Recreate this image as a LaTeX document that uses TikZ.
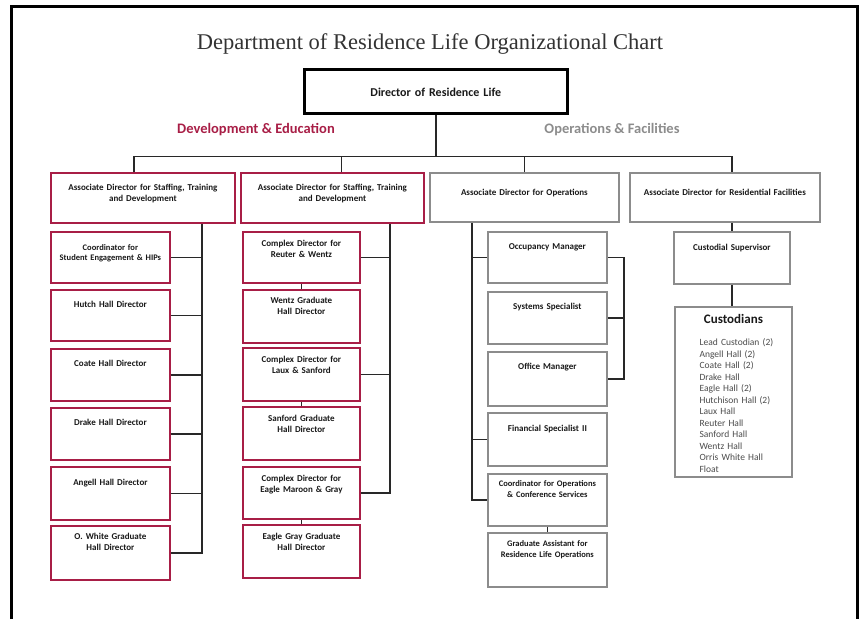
\documentclass[tikz,border=0pt]{standalone}
\usepackage{fontspec}
\setmainfont{Carlito}
\newfontfamily\titlefont{Liberation Serif}
\usepackage{xcolor}
\usepackage{tikz}
\usetikzlibrary{calc}
\usetikzlibrary{positioning}
\definecolor{devred}{RGB}{168,30,70}
\definecolor{opsgray}{RGB}{140,140,140}
\definecolor{wirecol}{RGB}{40,40,40}
\tikzset{
 box/.style={draw,fill=white,anchor=north west,align=center,inner xsep=2pt,inner ysep=0pt,text=black!90,font=\bfseries\fontsize{9}{11}\selectfont},
 devbox/.style={box,draw=devred,line width=1.8pt},
 opsbox/.style={box,draw=opsgray,line width=1.8pt},
 wire/.style={draw=wirecol,line width=1.5pt},
}

\begin{document}
\begin{tikzpicture}[x=1pt,y=-1pt]
 	\useasboundingbox (0,0) rectangle (862,619);
 	\draw[line width=3pt] (11,619) -- (11,6) -- (857,6) -- (857,619);
 	\node[font=\titlefont\fontsize{22.5}{26}\selectfont,text=black!80] (title) at (430,44) {Department of Residence Life Organizational Chart};
 	\node[box,draw=black,line width=2.6pt,text width=259pt,text height=27pt,text depth=17pt,font=\bfseries\fontsize{12}{14}\selectfont] (dir) at (303,68) {Director of Residence Life};
 	\node[font=\bfseries\fontsize{14.5}{17}\selectfont,text=devred] (dev) at (256,130) {Development \& Education};
 	\node[font=\bfseries\fontsize{14.5}{17}\selectfont,text=opsgray] (ops) at (612,130) {Operations \& Facilities};

 	\node[devbox,text width=180pt,text height=18pt,text depth=32pt] (ad1) at (50,172) {Associate Director for Staffing, Training\\and Development};
 	\node[devbox,text width=179pt,text height=18pt,text depth=32pt] (ad2) at (240,172) {Associate Director for Staffing, Training\\and Development};
 	\node[opsbox,text width=185pt,text height=23pt,text depth=26pt] (ad3) at (429,172) {Associate Director for Operations};
 	\node[opsbox,text width=186pt,text height=23pt,text depth=26pt] (ad4) at (629,172) {Associate Director for Residential Facilities};

 	\node[devbox,text width=115pt,text height=19pt,text depth=32pt,font=\bfseries\fontsize{8.5}{10}\selectfont] (coord) at (50,231) {Coordinator for\\Student Engagement \& HIPs};
 	\node[devbox,text width=115pt,text height=18pt,text depth=33pt] (hutch) at (50,289) {Hutch Hall Director};
 	\node[devbox,text width=115pt,text height=18pt,text depth=34pt] (coate) at (50,348) {Coate Hall Director};
 	\node[devbox,text width=115pt,text height=18pt,text depth=34pt] (drake) at (50,407) {Drake Hall Director};
 	\node[devbox,text width=115pt,text height=19pt,text depth=34pt] (angell) at (50,466) {Angell Hall Director};
 	\node[devbox,text width=115pt,text height=14pt,text depth=40pt] (owhite) at (50,525) {O. White Graduate\\Hall Director};

 	\node[devbox,text width=113pt,text height=15pt,text depth=36pt] (reuter) at (242,231) {Complex Director for\\Reuter \& Wentz};
 	\node[devbox,text width=113pt,text height=14pt,text depth=39pt] (wentz) at (242,289) {Wentz Graduate\\Hall Director};
 	\node[devbox,text width=113pt,text height=15pt,text depth=38pt] (laux) at (242,347) {Complex Director for\\Laux \& Sanford};
 	\node[devbox,text width=113pt,text height=15pt,text depth=38pt] (sanford) at (242,406) {Sanford Graduate\\Hall Director};
 	\node[devbox,text width=113pt,text height=15pt,text depth=37pt] (eagle) at (242,466) {Complex Director for\\Eagle Maroon \& Gray};
 	\node[devbox,text width=113pt,text height=15pt,text depth=38pt] (eaglegray) at (242,524) {Eagle Gray Graduate\\Hall Director};

 	\node[opsbox,text width=115pt,text height=18pt,text depth=33pt] (occ) at (487,231) {Occupancy Manager};
 	\node[opsbox,text width=115pt,text height=18pt,text depth=34pt] (sys) at (487,291) {Systems Specialist};
 	\node[opsbox,text width=115pt,text height=18pt,text depth=36pt] (office) at (487,351) {Office Manager};
 	\node[opsbox,text width=115pt,text height=19pt,text depth=34pt] (fin) at (487,412) {Financial Specialist II};
 	\node[opsbox,text width=115pt,text height=13pt,text depth=39pt,font=\bfseries\fontsize{8.5}{11}\selectfont] (cops) at (487,473) {Coordinator for Operations\\\& Conference Services};
 	\node[opsbox,text width=115pt,text height=14pt,text depth=40pt,font=\bfseries\fontsize{8.5}{11}\selectfont] (gassist) at (487,532) {Graduate Assistant for\\Residence Life Operations};

 	\node[opsbox,text width=112pt,text height=19pt,text depth=33pt] (cust) at (673,231) {Custodial Supervisor};
 	\node[opsbox,text width=113pt,text height=17pt,text depth=153pt,font=\fontsize{9.5}{11.5}\selectfont] (crew) at (674,306) {{\bfseries\fontsize{13}{15}\selectfont Custodians}\\[10.5pt]
 	 	\hspace*{6pt}\color{black!70}\begin{tabular}[t]{@{}l@{}}Lead Custodian (2)\\Angell Hall (2)\\Coate Hall (2)\\Drake Hall\\Eagle Hall (2)\\Hutchison Hall (2)\\Laux Hall\\Reuter Hall\\Sanford Hall\\Wentz Hall\\Orris White Hall\\Float\end{tabular}};

 	\draw[wire] (dir.south) -- ++(0,42) coordinate (bus);
 	\draw[wire] ([xshift=-9pt]ad1.north) |- (bus) -| (cust.north |- ad4.north);
 	\draw[wire] ([xshift=9pt]ad2.north) -- ([xshift=9pt]ad2.north |- bus);
 	\draw[wire] (ad3.north) -- (ad3.north |- bus);

 	\draw[wire] (coord.east) -- ++(31,0) coordinate (b1);
 	\draw[wire] (b1 |- ad1.south) -- (b1 |- owhite.east) -- (owhite.east);
 	\foreach \n in {hutch,coate,drake,angell}
 	 	\draw[wire] (\n.east) -- (\n.east -| b1);

 	\draw[wire] (reuter.east) -- ++(29,0) coordinate (b2);
 	\draw[wire] (b2 |- ad2.south) -- (b2 |- eagle.east) -- (eagle.east);
 	\draw[wire] (laux.east) -- (laux.east -| b2);
 	\draw[wire] (reuter.south) -- (wentz.north);
 	\draw[wire] (laux.south) -- (sanford.north);
 	\draw[wire] (eagle.south) -- (eaglegray.north);

 	\draw[wire] (occ.west) -- ++(-15,0) coordinate (b3);
 	\draw[wire] (b3 |- ad3.south) -- (b3 |- cops.west) -- (cops.west);
 	\draw[wire] (fin.west) -- (fin.west -| b3);
 	\draw[wire] (occ.east) -- ++(16,0) coordinate (b4);
 	\draw[wire] (b4) -- (b4 |- office.east) -- (office.east);
 	\draw[wire] (sys.east) -- (sys.east -| b4);
 	\draw[wire] (cops.south) -- (gassist.north);

 	\draw[wire] (ad4.south -| cust.north) -- (cust.north);
 	\draw[wire] (cust.south) -- (cust.south |- crew.north);
\end{tikzpicture}
\end{document}
